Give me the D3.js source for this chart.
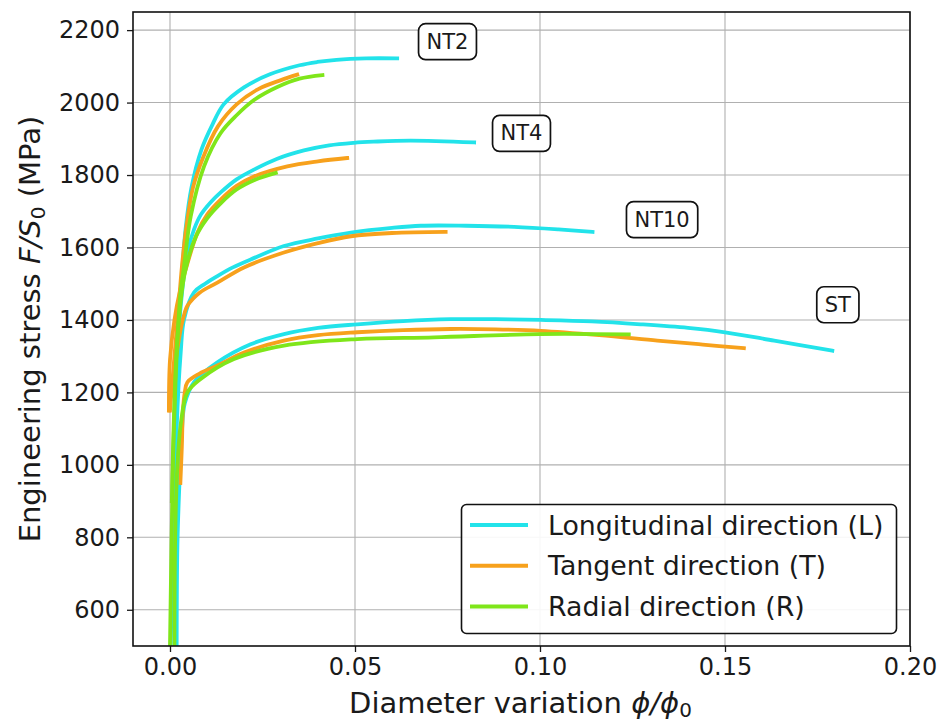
<!DOCTYPE html>
<html><head><meta charset="utf-8">
<script src="https://cdn.jsdelivr.net/npm/d3@7"></script>
<style>body{margin:0;background:#fff}svg{display:block}text{font-family:"DejaVu Sans",sans-serif;fill:#1a1a1a}</style>
</head><body><svg id="c" width="940" height="724"></svg>
<script>
// ---- data (diameter variation, engineering stress MPa) ----
const xTicks = [0.00, 0.05, 0.10, 0.15, 0.20];
const yTicks = [600, 800, 1000, 1200, 1400, 1600, 1800, 2000, 2200];

// Longitudinal (L)
const nt2L_x = [0.0002,0.0010,0.0018,0.0025,0.0032,0.0042,0.0058,0.0085,0.0115,0.0145,0.0200,0.0270,0.0350,0.0398,0.0450,0.0530,0.0614];
const nt2L_y = [500,900,1200,1400,1520,1650,1765,1870,1940,1995,2042,2078,2103,2112,2118,2122,2122];
const nt4L_x = [0.0010,0.0020,0.0030,0.0047,0.0065,0.0083,0.0110,0.0137,0.0180,0.0227,0.0290,0.0362,0.0430,0.0497,0.0550,0.0650,0.0822];
const nt4L_y = [1000,1300,1450,1586,1650,1690,1725,1752,1788,1815,1845,1868,1882,1889,1892,1895,1890];
const nt10L_x = [0.0010,0.0018,0.0029,0.0038,0.0065,0.0095,0.0128,0.0170,0.0218,0.0308,0.0400,0.0489,0.0600,0.0678,0.0800,0.0930,0.1050,0.1142];
const nt10L_y = [700,1100,1311,1402,1476,1500,1521,1545,1567,1604,1625,1641,1654,1660,1660,1657,1650,1643];
const stL_x = [0.0018,0.0020,0.0026,0.0032,0.0040,0.0065,0.0128,0.0218,0.0308,0.0400,0.0506,0.0630,0.0759,0.0880,0.1002,0.1140,0.1272,0.1400,0.1500,0.1633,0.1790];
const stL_y = [500,778,962,1090,1170,1228,1283,1333,1361,1378,1388,1397,1402,1402,1400,1396,1388,1378,1366,1343,1315];

// Tangent (T)
const nt2T_x = [0.0000,0.0012,0.0022,0.0032,0.0044,0.0062,0.0090,0.0130,0.0180,0.0240,0.0300,0.0344];
const nt2T_y = [1150,1300,1420,1545,1655,1765,1850,1935,1995,2038,2062,2077];
const nt4T_x = [-0.0003,0.0000,0.0012,0.0027,0.0047,0.0074,0.0100,0.0137,0.0180,0.0227,0.0317,0.0400,0.0479];
const nt4T_y = [1150,1290,1400,1480,1555,1641,1690,1732,1770,1796,1824,1838,1847];
const nt10T_x = [0.0010,0.0030,0.0040,0.0047,0.0080,0.0128,0.0200,0.0308,0.0400,0.0489,0.0600,0.0745];
const nt10T_y = [1250,1380,1421,1439,1475,1503,1545,1586,1612,1631,1640,1643];
const stT_x = [0.0028,0.0032,0.0035,0.0040,0.0047,0.0080,0.0128,0.0200,0.0308,0.0400,0.0506,0.0630,0.0759,0.0880,0.1002,0.1160,0.1317,0.1440,0.1551];
const stT_y = [950,1050,1150,1200,1228,1252,1274,1310,1343,1358,1366,1372,1375,1374,1370,1358,1343,1332,1322];

// Radial (R)
const nt2R_x = [0.0000,0.0008,0.0018,0.0028,0.0038,0.0056,0.0092,0.0137,0.0180,0.0227,0.0290,0.0350,0.0412];
const nt2R_y = [500,1000,1300,1470,1549,1686,1824,1916,1965,2007,2043,2066,2076];
const nt4R_x = [0.0005,0.0020,0.0040,0.0070,0.0100,0.0137,0.0180,0.0230,0.0286];
const nt4R_y = [900,1350,1530,1630,1680,1722,1760,1787,1806];
const stR_x = [0.0012,0.0014,0.0020,0.0030,0.0047,0.0083,0.0173,0.0308,0.0506,0.0714,0.1000,0.1240];
const stR_y = [500,800,1000,1120,1200,1237,1292,1329,1347,1352,1361,1360];

const seriesNames = ["Longitudinal direction (L)", "Tangent direction (T)", "Radial direction (R)"];
const seriesColors = ["#22e3ea", "#f7a11c", "#7fe61a"];
const labelNames = ["NT2", "NT4", "NT10", "ST"];
const labelX = [0.075, 0.095, 0.133, 0.1805];
const labelY = [2168, 1915, 1677, 1442];

const curves = [
  {s:0, x:nt2L_x, y:nt2L_y},{s:0, x:nt4L_x, y:nt4L_y},{s:0, x:nt10L_x, y:nt10L_y},{s:0, x:stL_x, y:stL_y},
  {s:1, x:nt2T_x, y:nt2T_y},{s:1, x:nt4T_x, y:nt4T_y},{s:1, x:nt10T_x, y:nt10T_y},{s:1, x:stT_x, y:stT_y},
  {s:2, x:nt2R_x, y:nt2R_y},{s:2, x:nt4R_x, y:nt4R_y},{s:2, x:stR_x, y:stR_y}
];

// ---- layout ----
const L = 133, R = 910, T = 12, B = 646;
const svg = d3.select("#c");
const x = d3.scaleLinear().domain([-0.01, 0.2]).range([L, R]);
const y = d3.scaleLinear().domain([500, 2250]).range([B, T]);

// grid
const g = svg.append("g");
g.selectAll(".gx").data(xTicks).enter().append("line")
  .attr("x1", d => x(d)).attr("x2", d => x(d)).attr("y1", T).attr("y2", B)
  .attr("stroke", "#b0b0b0").attr("stroke-width", 1.1);
g.selectAll(".gy").data(yTicks).enter().append("line")
  .attr("y1", d => y(d)).attr("y2", d => y(d)).attr("x1", L).attr("x2", R)
  .attr("stroke", "#b0b0b0").attr("stroke-width", 1.1);

// curves
svg.append("clipPath").attr("id", "pc").append("rect")
  .attr("x", L).attr("y", T).attr("width", R - L).attr("height", B - T);
const line = d3.line().x(d => x(d[0])).y(d => y(d[1])).curve(d3.curveCatmullRom.alpha(0.5));
const cg = svg.append("g").attr("clip-path", "url(#pc)");
curves.forEach(c => {
  const pts = c.x.map((v, i) => [v, c.y[i]]);
  cg.append("path").attr("d", line(pts)).attr("fill", "none")
    .attr("stroke", seriesColors[c.s]).attr("stroke-width", 3.8)
    .attr("stroke-linejoin", "round").attr("stroke-linecap", "square");
});

// axes
const fs = 24;
const ax = svg.append("g").attr("transform", `translate(0,${B})`)
  .call(d3.axisBottom(x).tickValues(xTicks).tickFormat(d3.format(".2f")).tickSizeOuter(0).tickSize(6).tickPadding(6));
const ay = svg.append("g").attr("transform", `translate(${L},0)`)
  .call(d3.axisLeft(y).tickValues(yTicks).tickFormat(d3.format("d")).tickSizeOuter(0).tickSize(6).tickPadding(7));
[ax, ay].forEach(a => {
  a.select(".domain").remove();
  a.selectAll("line").attr("stroke", "#1a1a1a").attr("stroke-width", 1.3);
  a.selectAll("text").attr("font-size", fs).attr("font-family", "DejaVu Sans").attr("fill", "#1a1a1a");
});
svg.append("rect").attr("x", L).attr("y", T).attr("width", R - L).attr("height", B - T)
  .attr("fill", "none").attr("stroke", "#111").attr("stroke-width", 1.6);

// axis labels
const xl = svg.append("text").attr("x", (L + R) / 2 - 1).attr("y", 713).attr("text-anchor", "middle").attr("font-size", 29);
xl.append("tspan").text("Diameter variation ");
xl.append("tspan").attr("font-style", "italic").text("ϕ/ϕ");
xl.append("tspan").attr("font-size", 20).attr("dy", 4).text("0");

const yl = svg.append("text").attr("transform", `translate(40,${(T + B) / 2}) rotate(-90)`)
  .attr("text-anchor", "middle").attr("font-size", 29);
yl.append("tspan").text("Engineering stress ");
yl.append("tspan").attr("font-style", "italic").text("F/S");
yl.append("tspan").attr("font-size", 20).attr("dy", 5).text("0");
yl.append("tspan").attr("dy", -5).text(" (MPa)");

// annotation boxes
const ag = svg.append("g");
labelNames.forEach((n, i) => {
  const cx = x(labelX[i]), cy = y(labelY[i]);
  const box = ag.append("rect");
  const t = ag.append("text").attr("x", cx).attr("y", cy).attr("text-anchor", "middle")
    .attr("dominant-baseline", "central").attr("font-size", 21).text(n);
  const w = t.node().getComputedTextLength();
  box.attr("x", cx - w / 2 - 8).attr("y", cy - 18).attr("width", w + 16).attr("height", 36)
    .attr("rx", 7).attr("fill", "#fff").attr("stroke", "#111").attr("stroke-width", 1.7);
});

// legend
const lg = svg.append("g");
lg.append("rect").attr("x", 461.5).attr("y", 504.5).attr("width", 435).attr("height", 129)
  .attr("rx", 5).attr("fill", "#fff").attr("fill-opacity", 0.9).attr("stroke", "#111").attr("stroke-width", 1.6);
seriesNames.forEach((n, i) => {
  const yy = 525 + i * 40.8;
  lg.append("line").attr("x1", 470).attr("x2", 528).attr("y1", yy).attr("y2", yy)
    .attr("stroke", seriesColors[i]).attr("stroke-width", 4);
  lg.append("text").attr("x", 548).attr("y", yy).attr("dominant-baseline", "central")
    .attr("font-size", 26.8).text(n);
});
</script></body></html>
